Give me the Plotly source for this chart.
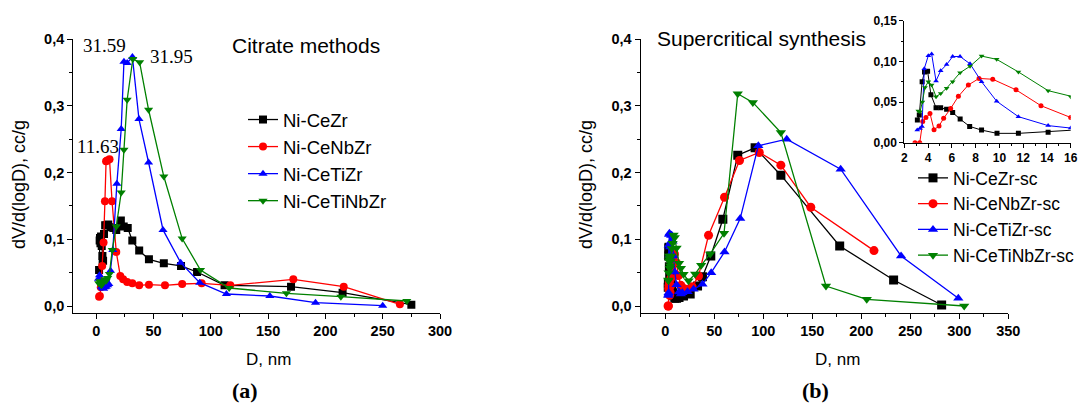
import plotly.graph_objects as go

# ---------------- data: (a) citrate methods ----------------
a_cezr_D = [2.5, 3.0, 3.3, 3.7, 4.2, 4.8, 5.4, 6.0, 6.8, 7.8, 9.0, 10.5, 12.5, 15.0, 17.5, 21.5, 24.0, 27.5, 31.5, 37.5, 46.0, 59.0, 74.0, 88.0, 112.0, 170.0, 215.0, 275.0]
a_cezr_v = [0.054, 0.098, 0.102, 0.094, 0.104, 0.090, 0.075, 0.068, 0.108, 0.121, 0.121, 0.122, 0.118, 0.117, 0.114, 0.128, 0.119, 0.117, 0.098, 0.083, 0.070, 0.064, 0.060, 0.051, 0.031, 0.029, 0.020, 0.002]

a_cenbzr_D = [2.5, 3.2, 4.0, 5.2, 6.4, 7.6, 8.6, 9.6, 11.6, 13.8, 17.5, 21.0, 23.5, 27.0, 31.5, 37.5, 46.0, 60.0, 75.0, 92.0, 117.0, 172.0, 216.0, 265.0]
a_cenbzr_v = [0.014, 0.015, 0.028, 0.060, 0.095, 0.157, 0.217, 0.218, 0.220, 0.157, 0.081, 0.045, 0.040, 0.036, 0.034, 0.031, 0.032, 0.031, 0.033, 0.034, 0.031, 0.040, 0.029, 0.0025]

a_cetizr_D = [2.0, 2.9, 3.8, 4.6, 5.6, 6.5, 7.5, 8.7, 10.0, 11.0, 12.5, 14.5, 18.0, 21.8, 24.2, 27.0, 31.59, 37.3, 45.7, 58.3, 73.7, 90.3, 113.6, 151.5, 191.4, 250.0]
a_cetizr_v = [0.041, 0.046, 0.036, 0.029, 0.027, 0.026, 0.028, 0.029, 0.031, 0.033, 0.053, 0.084, 0.183, 0.265, 0.366, 0.364, 0.373, 0.280, 0.215, 0.114, 0.065, 0.035, 0.018, 0.015, 0.005, 0.0005]

a_cetinbzr_D = [2.2, 3.0, 3.8, 4.6, 5.5, 6.5, 7.5, 8.7, 10.0, 11.5, 14.0, 17.5, 21.8, 24.2, 27.0, 31.95, 37.9, 45.7, 59.0, 75.0, 91.0, 116.0, 166.0, 213.5, 271.0]
a_cetinbzr_v = [0.034, 0.037, 0.033, 0.031, 0.034, 0.037, 0.040, 0.038, 0.042, 0.048, 0.084, 0.119, 0.170, 0.234, 0.309, 0.370, 0.365, 0.294, 0.194, 0.101, 0.054, 0.027, 0.019, 0.014, 0.0075]

# ---------------- data: (b) supercritical synthesis ----------------
b_cezr_D = [3.1, 3.26, 3.5, 3.7, 3.96, 4.24, 4.67, 5.06, 5.56, 6.07, 6.7, 7.5, 8.5, 9.8, 11.6, 14.1, 18.7, 25.5, 33.0, 38.0, 46.5, 58.8, 74.0, 91.7, 118.0, 178.0, 233.0, 282.0]
b_cezr_v = [0.028, 0.034, 0.075, 0.087, 0.088, 0.059, 0.043, 0.043, 0.041, 0.037, 0.029, 0.020, 0.0155, 0.0115, 0.0115, 0.0127, 0.015, 0.018, 0.030, 0.044, 0.075, 0.130, 0.226, 0.237, 0.196, 0.090, 0.039, 0.0015]

b_cenbzr_D = [2.9, 3.3, 3.55, 3.82, 4.16, 4.5, 4.92, 5.31, 5.9, 6.55, 7.39, 8.29, 9.44, 11.4, 13.5, 16.0, 18.0, 22.8, 27.5, 34.0, 44.2, 60.5, 75.8, 96.0, 118.0, 148.5, 213.0]
b_cenbzr_v = [0.0, 0.0, 0.026, 0.031, 0.036, 0.016, 0.0205, 0.030, 0.042, 0.057, 0.071, 0.079, 0.078, 0.065, 0.0455, 0.031, 0.027, 0.025, 0.029, 0.045, 0.106, 0.163, 0.218, 0.230, 0.211, 0.148, 0.083]

b_cetizr_D = [3.09, 3.32, 3.49, 3.68, 4.02, 4.3, 4.67, 5.06, 5.56, 6.07, 6.69, 7.53, 8.5, 9.77, 11.6, 14.1, 16.0, 17.5, 22.8, 28.9, 38.0, 46.9, 60.5, 76.5, 95.0, 124.0, 179.0, 240.6, 299.0]
b_cetizr_v = [0.0156, 0.0176, 0.020, 0.091, 0.107, 0.109, 0.076, 0.0885, 0.096, 0.106, 0.106, 0.097, 0.075, 0.051, 0.032, 0.021, 0.018, 0.020, 0.0215, 0.025, 0.0325, 0.050, 0.081, 0.131, 0.240, 0.250, 0.205, 0.075, 0.0115]

b_cetinbzr_D = [3.18, 3.32, 3.52, 3.74, 4.02, 4.3, 4.67, 5.06, 5.56, 6.07, 6.69, 7.53, 8.5, 9.77, 11.6, 14.1, 16.0, 18.7, 23.8, 30.6, 36.7, 45.9, 60.0, 74.0, 89.4, 118.0, 164.0, 205.6, 305.0]
b_cetinbzr_v = [0.039, 0.038, 0.050, 0.068, 0.075, 0.071, 0.0565, 0.0605, 0.067, 0.075, 0.086, 0.094, 0.1065, 0.1025, 0.087, 0.064, 0.0565, 0.0475, 0.038, 0.048, 0.061, 0.078, 0.109, 0.318, 0.305, 0.260, 0.030, 0.010, 0.0]

a_names = ["Ni-CeZr", "Ni-CeNbZr", "Ni-CeTiZr", "Ni-CeTiNbZr"]
b_names = ["Ni-CeZr-sc", "Ni-CeNbZr-sc", "Ni-CeTiZr-sc", "Ni-CeTiNbZr-sc"]
peak_labels = ["31.59", "31.95", "11.63"]
y_ticks = [0.0, 0.1, 0.2, 0.3, 0.4]
a_x_ticks = [0, 50, 100, 150, 200, 250, 300]
b_x_ticks = [0, 50, 100, 150, 200, 250, 300, 350]
inset_x_ticks = [2, 4, 6, 8, 10, 12, 14, 16]
inset_y_ticks = [0.0, 0.05, 0.10, 0.15]

# ---------------- styling ----------------
W, H = 1080, 405
colors = ["#000000", "#FF0000", "#0000FF", "#008000"]
symbols = ["square", "circle", "triangle-up", "triangle-down"]
SANS = "Arial, Liberation Sans, sans-serif"
SERIF = "Times New Roman, Liberation Serif, serif"


def pxx(x):
    return x / W


def pxy(y):
    return 1 - y / H


fig = go.Figure()

a_data = [(a_cezr_D, a_cezr_v), (a_cenbzr_D, a_cenbzr_v), (a_cetizr_D, a_cetizr_v), (a_cetinbzr_D, a_cetinbzr_v)]
b_data = [(b_cezr_D, b_cezr_v), (b_cenbzr_D, b_cenbzr_v), (b_cetizr_D, b_cetizr_v), (b_cetinbzr_D, b_cetinbzr_v)]

for i, (D, v) in enumerate(a_data):
    fig.add_trace(go.Scatter(x=D, y=v, name=a_names[i], mode="lines+markers",
                             line=dict(color=colors[i], width=1.3),
                             marker=dict(symbol=symbols[i], size=8, color=colors[i]),
                             xaxis="x", yaxis="y", legend="legend"))
for i, (D, v) in enumerate(b_data):
    fig.add_trace(go.Scatter(x=D, y=v, name=b_names[i], mode="lines+markers",
                             line=dict(color=colors[i], width=1.3),
                             marker=dict(symbol=symbols[i], size=9, color=colors[i]),
                             xaxis="x2", yaxis="y2", legend="legend2"))
for i, (D, v) in enumerate(b_data):
    fig.add_trace(go.Scatter(x=D, y=v, name=b_names[i], mode="lines+markers",
                             line=dict(color=colors[i], width=1),
                             marker=dict(symbol=symbols[i], size=5, color=colors[i]),
                             xaxis="x3", yaxis="y3", showlegend=False))

tickfont = dict(family=SANS, size=14.5, color="black", weight="bold")
axis_common = dict(showline=True, linecolor="black", linewidth=1.3, ticks="outside",
                   ticklen=5, tickwidth=1.2, tickcolor="black", showgrid=False,
                   zeroline=False, tickfont=tickfont, mirror=False, automargin=False)
inset_font = dict(family=SANS, size=12, color="black", weight="bold")

y_top, y_bot = pxy(39), pxy(312.7)

fig.update_layout(
    width=W, height=H, autosize=False,
    margin=dict(l=0, r=0, t=0, b=0, pad=0),
    paper_bgcolor="white", plot_bgcolor="rgba(0,0,0,0)",
    separators=",.",
    xaxis=dict(domain=[pxx(73.3), pxx(440)], range=[-20, 300], anchor="y",
               tickvals=a_x_ticks,
               minor=dict(dtick=25, ticks="outside", ticklen=3, tickcolor="black"), **axis_common),
    yaxis=dict(domain=[y_bot, y_top], range=[-0.01, 0.4], anchor="x",
               tickvals=y_ticks, tickformat=".1f",
               minor=dict(dtick=0.05, ticks="outside", ticklen=3, tickcolor="black"), **axis_common),
    xaxis2=dict(domain=[pxx(640.7), pxx(1008.3)], range=[-25, 350], anchor="y2",
                tickvals=b_x_ticks,
                minor=dict(dtick=25, ticks="outside", ticklen=3, tickcolor="black"), **axis_common),
    yaxis2=dict(domain=[y_bot, y_top], range=[-0.01, 0.4], anchor="x2",
                tickvals=y_ticks, tickformat=".1f",
                minor=dict(dtick=0.05, ticks="outside", ticklen=3, tickcolor="black"), **axis_common),
    xaxis3=dict(domain=[pxx(904.3), pxx(1070.7)], range=[2, 16], anchor="y3",
                tickvals=inset_x_ticks,
                minor=dict(dtick=1, ticks="outside", ticklen=2, tickcolor="black"),
                **{**axis_common, "tickfont": inset_font, "ticklen": 4, "linewidth": 1.1}),
    yaxis3=dict(domain=[pxy(142.7), pxy(20.7)], range=[0, 0.15], anchor="x3",
                tickvals=inset_y_ticks, tickformat=".2f",
                minor=dict(dtick=0.025, ticks="outside", ticklen=2, tickcolor="black"),
                **{**axis_common, "tickfont": inset_font, "ticklen": 4, "linewidth": 1.1}),
    legend=dict(x=pxx(243), y=pxy(101), xanchor="left", yanchor="top",
                font=dict(family=SANS, size=18.5, color="black"),
                bgcolor="rgba(0,0,0,0)", borderwidth=0, tracegroupgap=0),
    legend2=dict(x=1.0, y=pxy(160), xanchor="right", yanchor="top",
                 font=dict(family=SANS, size=17.5, color="black"),
                 bgcolor="rgba(0,0,0,0)", borderwidth=0, tracegroupgap=0),
)

ann = []
# peak labels (a)
ann.append(dict(x=pxx(104), y=pxy(45.5), text=peak_labels[0], font=dict(family=SERIF, size=19, color="black")))
ann.append(dict(x=pxx(171), y=pxy(56), text=peak_labels[1], font=dict(family=SERIF, size=19, color="black")))
ann.append(dict(x=pxx(97.5), y=pxy(146), text=peak_labels[2], font=dict(family=SERIF, size=19, color="black")))
# titles
ann.append(dict(x=pxx(306), y=pxy(45), text="Citrate methods", font=dict(family=SANS, size=21, color="black")))
ann.append(dict(x=pxx(761), y=pxy(38), text="Supercritical synthesis", font=dict(family=SANS, size=21, color="black")))
# axis titles
for xc in (19, 586):
    ann.append(dict(x=pxx(xc), y=pxy(185), text="dV/d(logD), cc/g", textangle=-90,
                    font=dict(family=SANS, size=18, color="black")))
for xc in (268.5, 837):
    ann.append(dict(x=pxx(xc), y=pxy(359), text="D, nm", font=dict(family=SANS, size=17, color="black")))
# panel labels
ann.append(dict(x=pxx(245), y=pxy(390), text="<b>(a)</b>", font=dict(family=SERIF, size=22, color="black")))
ann.append(dict(x=pxx(815), y=pxy(390), text="<b>(b)</b>", font=dict(family=SERIF, size=22, color="black")))

for a in ann:
    a.update(xref="paper", yref="paper", xanchor="center", yanchor="middle", showarrow=False)
fig.update_layout(annotations=ann)

fig.write_html("out.html",
               config={"displayModeBar": False},
               post_script="document.body.style.margin='0';document.body.style.overflow='hidden';")
